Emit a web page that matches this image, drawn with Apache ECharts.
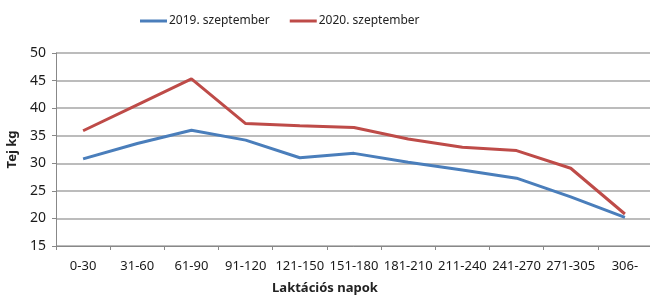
<!DOCTYPE html>
<html>
<head>
<meta charset="utf-8">
<script src="https://cdn.jsdelivr.net/npm/echarts@6/dist/echarts.min.js"></script>
<style>
  html, body { margin: 0; padding: 0; background: #fff; }
  #chart { width: 650px; height: 295px; }
</style>
</head>
<body>
<div id="chart"></div>
<script>
const categories = ['0-30', '31-60', '61-90', '91-120', '121-150', '151-180', '181-210', '211-240', '241-270', '271-305', '306-']
const sept2019 = [30.8, 33.6, 36.0, 34.2, 31.0, 31.8, 30.2, 28.8, 27.3, 23.9, 20.2]
const sept2020 = [35.9, 40.6, 45.3, 37.2, 36.8, 36.5, 34.4, 32.9, 32.3, 29.1, 20.8]
const seriesNames = ['2019. szeptember', '2020. szeptember']

const font = '"Noto Sans", sans-serif'
const chart = echarts.init(document.getElementById('chart'))

chart.setOption({
  animation: false,
  textStyle: { fontFamily: font },
  legend: {
    top: 10,
    left: 135,
    itemWidth: 27,
    itemHeight: 3,
    itemGap: 20,
    icon: 'rect',
    textStyle: { fontSize: 12, color: '#222', fontFamily: font, padding: [0, 0, 0, -3] },
    data: seriesNames
  },
  grid: { left: 56, right: -2, top: 53, bottom: 49, containLabel: false, outerBoundsMode: 'none' },
  xAxis: {
    type: 'category',
    data: categories,
    name: 'Laktációs napok',
    nameLocation: 'middle',
    nameGap: 36,
    nameTextStyle: { fontSize: 13, fontWeight: 'bold', color: '#222', padding: [0, 58, 0, 0], fontFamily: font },
    axisLine: { lineStyle: { color: '#888' } },
    axisTick: { show: true, length: 4, lineStyle: { color: '#888' } },
    axisLabel: { fontSize: 13, color: '#1a1a1a', margin: 14, interval: 0, fontFamily: font }
  },
  yAxis: {
    type: 'value',
    min: 15,
    max: 50,
    interval: 5,
    name: 'Tej kg',
    nameLocation: 'middle',
    nameGap: 37,
    nameTextStyle: { fontSize: 13, fontWeight: 'bold', color: '#222', fontFamily: font },
    axisLine: { show: true, lineStyle: { color: '#888' } },
    axisTick: { show: true, length: 4, lineStyle: { color: '#888' } },
    axisLabel: { fontSize: 14, color: '#1a1a1a', margin: 10, fontFamily: font },
    splitLine: { lineStyle: { color: '#a6a6a6', width: 1.5 } }
  },
  series: [
    {
      name: seriesNames[0],
      type: 'line',
      data: sept2019,
      symbol: 'none',
      color: '#4a7ebb',
      lineStyle: { width: 3, color: '#4a7ebb' }
    },
    {
      name: seriesNames[1],
      type: 'line',
      data: sept2020,
      symbol: 'none',
      color: '#be4b48',
      lineStyle: { width: 3, color: '#be4b48' }
    }
  ]
})
</script>
</body>
</html>
